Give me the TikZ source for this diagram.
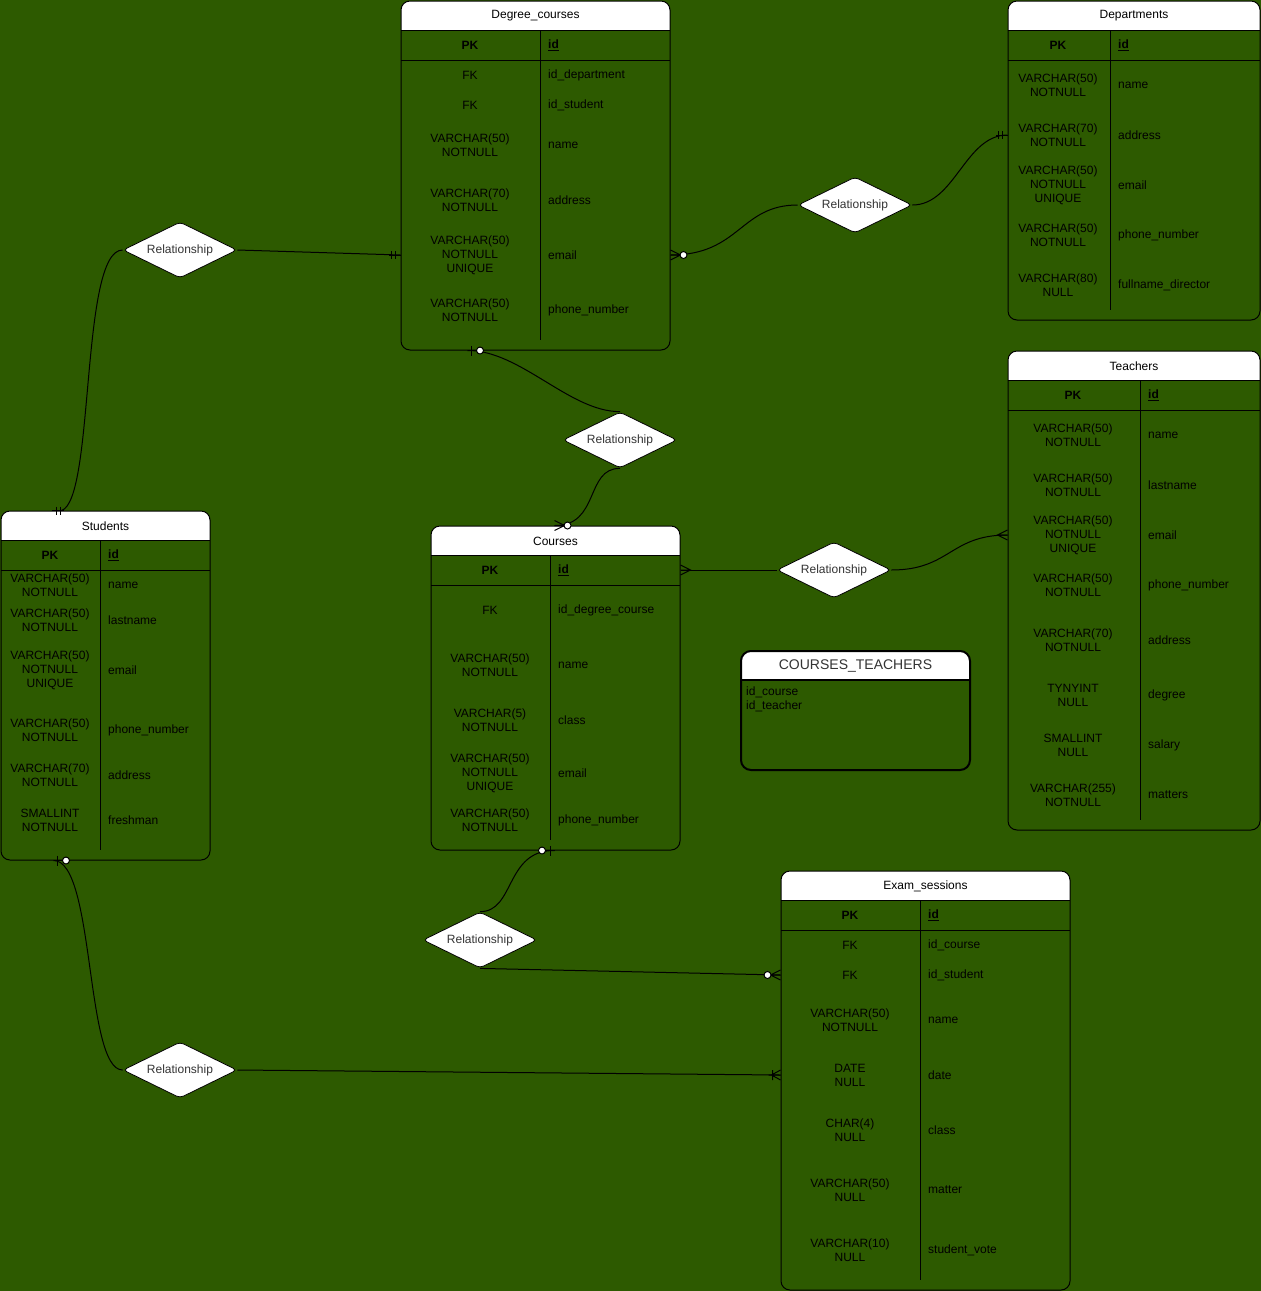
\documentclass[tikz,border=0pt]{standalone}
\usepackage{fontspec}
\setmainfont{Liberation Sans}
\usepackage{xcolor}
\usepackage{tikz}
\usetikzlibrary{shapes.geometric}

\definecolor{bggreen}{RGB}{45,90,0}
\definecolor{reltext}{RGB}{51,51,51}

\tikzset{
    frame/.style={draw, line width=1pt, rounded corners=9, inner sep=0},
    title/.style={font=\fontsize{12}{14}\selectfont},
    ltype/.style={align=center, font=\fontsize{12}{14}\selectfont},
    lname/.style={anchor=west, inner sep=0, font=\fontsize{12}{14}\selectfont},
    rel/.style={diamond, aspect=2, draw, fill=white, line width=0.8pt,
        rounded corners=4, inner sep=0, minimum width=114, minimum height=56,
        text=reltext, font=\fontsize{12}{14}\selectfont},
    link/.style={line width=1pt},
    % crow's foot ends, entity side at (0,0), line along +x
    mone/.pic={\draw[link] (0,0) -- (12,0) (5,-4) -- (5,4) (9,-4) -- (9,4);},
    many/.pic={\draw[link] (0,-5) -- (10,0) -- (0,5) (0,0) -- (10,0);},
    zmany/.pic={\draw[link] (0,-5) -- (10,0) -- (0,5) (0,0) -- (10,0);
        \draw[link, fill=white] (13,0) circle (3.5);},
    zone/.pic={\draw[link] (0,0) -- (9,0) (4,-5) -- (4,5);
        \draw[link, fill=white] (12.5,0) circle (3.5);},
    onemany/.pic={\draw[link] (0,-5) -- (9,0) -- (0,5) (0,0) -- (12,0) (8,-5) -- (8,5);}
}

% table frame: name, left, top, right, bottom, divider, title
\newcommand{\ertable}[7]{
    \begin{scope}
        \clip[rounded corners=9] (#2,#3) rectangle (#4,#5);
        \fill[white] (#2,#3) rectangle (#4,#3+29);
    \end{scope}
    \node[frame, minimum width={#4-#2}, minimum height={#5-#3}] (#1) at ({(#2+#4)/2},{(#3+#5)/2}) {};
    \draw[line width=1pt] (#2,#3+29) -- (#4,#3+29) (#2,#3+59) -- (#4,#3+59) (#6,#3+29) -- (#6,#5-10);
    \node[title] (#1-title) at ({(#2+#4)/2},#3+15) {#7};
}

% table rows: prefix, type column centre, name column left, list
\newcommand{\errows}[4]{
    \foreach \yy/\ty/\fd [count=\i] in {#4}{
        \node[ltype] (#1-l\i) at (#2,\yy) {\ty};
        \node[lname] (#1-r\i) at (#3,\yy) {\fd};
    }
}

\begin{document}
\begin{tikzpicture}[x=1pt, y=-1pt]
        \fill[bggreen] (0,0) rectangle (1261,1291);
        \useasboundingbox (0,0) rectangle (1261,1291);

        % Degree_courses
        \ertable{degree}{401}{1}{670}{350}{540}{Degree\_courses}
        \errows{dc}{470}{548}{45/\textbf{PK}/\textbf{\underline{id}}, 75/FK/id\_department,
            105/FK/id\_student, 145/{VARCHAR(50)\\NOTNULL}/name,
            200/{VARCHAR(70)\\NOTNULL}/address, 255/{VARCHAR(50)\\NOTNULL\\UNIQUE}/email,
            310/{VARCHAR(50)\\NOTNULL}/phone\_number}

        % Departments
        \ertable{dep}{1008}{1}{1260}{320}{1110}{Departments}
        \errows{dp}{1058}{1118}{45/\textbf{PK}/\textbf{\underline{id}}, 85/{VARCHAR(50)\\NOTNULL}/name,
            135/{VARCHAR(70)\\NOTNULL}/address, 185/{VARCHAR(50)\\NOTNULL\\UNIQUE}/email,
            235/{VARCHAR(50)\\NOTNULL}/phone\_number, 285/{VARCHAR(80)\\NULL}/fullname\_director}

        % Teachers
        \ertable{teach}{1008}{351}{1260}{830}{1140}{Teachers}
        \errows{te}{1073}{1148}{395/\textbf{PK}/\textbf{\underline{id}}, 435/{VARCHAR(50)\\NOTNULL}/name,
            485/{VARCHAR(50)\\NOTNULL}/lastname, 535/{VARCHAR(50)\\NOTNULL\\UNIQUE}/email,
            585/{VARCHAR(50)\\NOTNULL}/phone\_number, 640/{VARCHAR(70)\\NOTNULL}/address,
            695/{TYNYINT\\NULL}/degree, 745/{SMALLINT\\NULL}/salary,
            795/{VARCHAR(255)\\NOTNULL}/matters}

        % Students
        \ertable{students}{1}{511}{210}{860}{100}{Students}
        \errows{st}{50}{108}{555/\textbf{PK}/\textbf{\underline{id}}, 585/{VARCHAR(50)\\NOTNULL}/name,
            620/{VARCHAR(50)\\NOTNULL}/lastname, 670/{VARCHAR(50)\\NOTNULL\\UNIQUE}/email,
            730/{VARCHAR(50)\\NOTNULL}/phone\_number, 775/{VARCHAR(70)\\NOTNULL}/address,
            820/{SMALLINT\\NOTNULL}/freshman}

        % Courses
        \ertable{courses}{431}{526}{680}{850}{550}{Courses}
        \errows{co}{490}{558}{570/\textbf{PK}/\textbf{\underline{id}}, 610/FK/id\_degree\_course,
            665/{VARCHAR(50)\\NOTNULL}/name, 720/{VARCHAR(5)\\NOTNULL}/class,
            773/{VARCHAR(50)\\NOTNULL\\UNIQUE}/email, 820/{VARCHAR(50)\\NOTNULL}/phone\_number}

        % Exam_sessions
        \ertable{exam}{781}{871}{1070}{1290}{920}{Exam\_sessions}
        \errows{ex}{850}{928}{915/\textbf{PK}/\textbf{\underline{id}}, 945/FK/id\_course,
            975/FK/id\_student, 1020/{VARCHAR(50)\\NOTNULL}/name, 1075/{DATE\\NULL}/date,
            1130/{CHAR(4)\\NULL}/class, 1190/{VARCHAR(50)\\NULL}/matter,
            1250/{VARCHAR(10)\\NULL}/student\_vote}

        % COURSES_TEACHERS
        \begin{scope}
            \clip[rounded corners=10] (741,651) rectangle (970,770);
            \fill[white] (741,651) rectangle (970,680);
        \end{scope}
        \node[frame, line width=2pt, rounded corners=10, minimum width=229, minimum height=119] (ct) at (855.5,710.5) {};
        \draw[line width=2pt] (741,680) -- (970,680);
        \node[text=reltext, font=\fontsize{14}{16}\selectfont] (ct-title) at (855.5,666) {COURSES\_TEACHERS};
        \node[anchor=north west, align=left, inner sep=0, font=\fontsize{12}{14}\selectfont] (ct-cols) at (746,687) {id\_course\\id\_teacher};

        % relationships
        \node[rel] (r1) at (180,250) {Relationship};
        \node[rel] (r2) at (855,205) {Relationship};
        \node[rel] (r3) at (620,440) {Relationship};
        \node[rel] (r4) at (834,570) {Relationship};
        \node[rel] (r5) at (480,940) {Relationship};
        \node[rel] (r6) at (180,1070) {Relationship};

        % ends on top and bottom edges
        \coordinate (st-top) at ([xshift=51]students.north west);
        \coordinate (st-bot) at ([xshift=53]students.south west);
        \coordinate (dc-bot) at ([xshift=67]degree.south west);
        \coordinate (co-top) at ([xshift=124]courses.north west);
        \coordinate (co-bot) at ([xshift=124]courses.south west);

        % connectors
        \draw[link] (r1.east) -- (degree.west |- dc-r6);
        \draw[link] (r1.west) .. controls (80,250) and (95,500) .. ([xshift=10]st-top);
        \draw[link] (r2.west) .. controls (740,205) and (740,255) .. (degree.east |- dc-r6);
        \draw[link] (r2.east) .. controls (955,205) and (965,135) .. (dep.west |- dp-r3);
        \draw[link] (r3.north) .. controls (570,412) and (520,350) .. (dc-bot);
        \draw[link] (r3.south) .. controls (585,468) and (600,526) .. (co-top);
        \draw[link] (r4.west) -- (courses.east |- co-r1);
        \draw[link] (r4.east) .. controls (950,570) and (950,535) .. (teach.west |- te-r4);
        \draw[link] (r5.north) .. controls (515,912) and (505,850) .. (co-bot);
        \draw[link] (r5.south) -- (exam.west |- ex-r3);
        \draw[link] (r6.west) .. controls (85,1070) and (95,860) .. (st-bot);
        \draw[link] (r6.east) -- (exam.west |- ex-r5);

        % line ends
        \pic[xscale=-1] at (degree.west |- dc-r6) {mone};
        \pic at (st-top) {mone};
        \pic at (degree.east |- dc-r6) {zmany};
        \pic[xscale=-1] at (dep.west |- dp-r3) {mone};
        \pic at (dc-bot) {zone};
        \pic at (co-top) {zmany};
        \pic at (courses.east |- co-r1) {many};
        \pic[xscale=-1] at (teach.west |- te-r4) {many};
        \pic[xscale=-1] at (co-bot) {zone};
        \pic[xscale=-1] at (exam.west |- ex-r3) {zmany};
        \pic at (st-bot) {zone};
        \pic[xscale=-1] at (exam.west |- ex-r5) {onemany};
\end{tikzpicture}
\end{document}
